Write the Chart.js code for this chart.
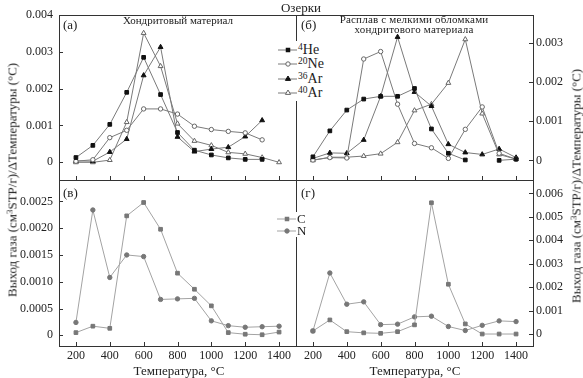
<!DOCTYPE html>
<html><head><meta charset="utf-8">
<script src="https://cdn.jsdelivr.net/npm/chart.js@4.4.1/dist/chart.umd.min.js"></script>
<style>
html,body{margin:0;padding:0;background:#fff;}
#wrap{position:relative;width:583px;height:378px;overflow:hidden;font-family:"Liberation Serif","DejaVu Serif",serif;color:#222;}
canvas{position:absolute;left:0;top:0;}
.t{position:absolute;white-space:nowrap;line-height:1;}
.c{transform:translateX(-50%);}
.rot{transform:translate(-50%,-50%) rotate(-90deg);font-size:13px;}
.s{font-size:0.68em;vertical-align:0.45em;line-height:0;}
.leg{position:absolute;background:#fff;}
.row{position:absolute;left:0;height:14px;}
.row svg{position:absolute;left:0;top:2px;}
.row span.l{position:absolute;left:20px;top:0;font-size:14px;line-height:14px;white-space:nowrap;}
</style></head><body><div id="wrap">
<canvas id="cA" width="583" height="378"></canvas>
<canvas id="cB" width="583" height="378"></canvas>
<canvas id="cV" width="583" height="378"></canvas>
<canvas id="cG" width="583" height="378"></canvas>

<div class="t c" style="left:301px;top:1px;font-size:13px;">Озерки</div>
<div class="t" style="left:63px;top:18px;font-size:13px;">(а)</div>
<div class="t c" style="left:178px;top:15px;font-size:11px;">Хондритовый материал</div>
<div class="t" style="left:301px;top:18px;font-size:13px;">(б)</div>
<div class="t c" style="left:414px;top:14px;font-size:11px;letter-spacing:0.2px;">Расплав с мелкими обломками</div>
<div class="t c" style="left:414px;top:24px;font-size:11px;letter-spacing:0.2px;">хондритового материала</div>
<div class="t" style="left:63px;top:186px;font-size:13px;">(в)</div>
<div class="t" style="left:301px;top:186px;font-size:13px;">(г)</div>
<div class="t c" style="left:179px;top:364px;font-size:13px;">Температура, °C</div>
<div class="t c" style="left:415px;top:364px;font-size:13px;">Температура, °C</div>
<div class="t rot" style="left:12px;top:180px;">Выход газа (см<span class="s">3</span>STP/г)/ΔТемпературы (°C)</div>
<div class="t rot" style="left:576px;top:186px;">Выход газа (см<span class="s">3</span>STP/г)/ΔТемпературы (°C)</div>

<div class="leg" id="legTop" style="left:278px;top:41px;width:60px;height:60px;"></div>
<div class="leg" id="legBot" style="left:277px;top:212px;width:34px;height:25px;"></div>
</div>
<script>
// ---- data ----
const temps = [200, 300, 400, 500, 600, 700, 800, 900, 1000, 1100, 1200, 1300, 1400];
const xTickVals = [200, 400, 600, 800, 1000, 1200, 1400];

// panel (а) Хондритовый материал
const heA   = [0.00013, 0.00046, 0.00103, 0.0019, 0.00285, 0.00184, 0.00081, 0.00033, 0.0002, 0.00012, 0.00008, 0.00008, null];
const neA   = [0.00003, 0.00007, 0.00067, 0.00087, 0.00145, 0.00145, 0.00131, 0.00098, 0.00089, 0.00084, 0.0008, 0.00061, null];
const ar36A = [0.00004, 0.00003, 0.00028, 0.00063, 0.00236, 0.00313, 0.00069, 0.00029, 0.00036, 0.00041, 0.0007, 0.00114, null];
const ar40A = [0.0, 0.0, 0.00006, 0.00109, 0.00351, 0.00261, 0.00105, 0.00058, 0.00046, 0.00027, 0.00023, 0.00013, 0.0];

// panel (б) Расплав с мелкими обломками хондритового материала
const heB   = [0.00009, 0.00075, 0.00128, 0.00156, 0.00163, 0.00163, 0.00183, 0.0008, 0.00018, 0.00001, null, 0.0, 0.00003];
const neB   = [0.00001, 0.00007, 0.00006, 0.00258, 0.00277, 0.00143, 0.00043, 0.00032, 0.00005, 0.00079, 0.00136, 0.00018, 0.00003];
const ar36B = [0.00005, 0.00019, 0.00018, 0.00052, 0.00163, 0.00314, 0.00174, 0.00138, 0.00041, 0.0002, 0.00015, 0.00029, 0.00007];
const ar40B = [0.0, 0.00008, 0.00008, 0.00011, 0.00017, 0.00046, 0.00127, 0.00143, 0.00197, 0.00308, 0.00119, 0.00015, 0.00003];

// panel (в)
const cV = [0.00005, 0.00017, 0.00013, 0.00223, 0.00248, 0.00198, 0.00116, 0.00086, 0.00055, 0.00005, 0.00002, 0.00001, 0.00006];
const nV = [0.00024, 0.00234, 0.00108, 0.0015, 0.00147, 0.00067, 0.00068, 0.00069, 0.00027, 0.00018, 0.00015, 0.00016, 0.00017];

// panel (г)
const cG = [0.00014, 0.00061, 0.00011, 0.00006, 0.00004, 0.00011, 0.0004, 0.0056, 0.00213, 0.00044, 0.00001, 0.00001, 0.00001];
const nG = [0.00014, 0.00261, 0.00128, 0.00138, 0.00041, 0.00043, 0.00074, 0.00077, 0.00033, 0.00016, 0.00038, 0.00057, 0.00054];

// y tick values / labels
const yTicksA = [0, 0.001, 0.002, 0.003, 0.004];
const yLabelsA = ['0', '0.001', '0.002', '0.003', '0.004'];
const yTicksB = [0, 0.001, 0.002, 0.003];
const yLabelsB = ['0', '0.001', '0.002', '0.003'];
const yTicksV = [0, 0.0005, 0.001, 0.0015, 0.002, 0.0025];
const yLabelsV = ['0', '0.0005', '0.0010', '0.0015', '0.0020', '0.0025'];
const yTicksG = [0, 0.001, 0.002, 0.003, 0.004, 0.005, 0.006];
const yLabelsG = ['0', '0.001', '0.002', '0.003', '0.004', '0.005', '0.006'];
const xLabels = ['200', '400', '600', '800', '1000', '1200', '1400'];

const seriesTop = ['4He', '20Ne', '36Ar', '40Ar'];
const seriesBot = ['C', 'N'];

// ---- styles ----
const LINE_TOP = '#7a7a7a';
const LINE_BOT = '#a3a3a3';
const MARK_BOT = '#777777';
const styleTop = [
  {pointStyle:'rect', pointRadius:2.6, pointBackgroundColor:'#111', pointBorderColor:'#111'},
  {pointStyle:'circle', pointRadius:2.2, pointBackgroundColor:'#fff', pointBorderColor:'#666'},
  {pointStyle:'triangle', pointRadius:2.8, pointBackgroundColor:'#111', pointBorderColor:'#111'},
  {pointStyle:'triangle', pointRadius:2.8, pointBackgroundColor:'#fff', pointBorderColor:'#666'}
];
const styleBot = [
  {pointStyle:'rect', pointRadius:2.6, pointBackgroundColor:MARK_BOT, pointBorderColor:MARK_BOT},
  {pointStyle:'circle', pointRadius:2.2, pointBackgroundColor:MARK_BOT, pointBorderColor:MARK_BOT}
];

const FONT = '"Liberation Serif", "DejaVu Serif", serif';

const boxTicks = {
  id: 'boxTicks',
  afterDraw(chart, args, opts) {
    const ctx = chart.ctx, a = chart.chartArea;
    const xs = chart.scales.x, ys = chart.scales.y;
    ctx.save();
    ctx.strokeStyle = '#333';
    ctx.lineWidth = 1;
    ctx.strokeRect(Math.round(a.left) + 0.5, Math.round(a.top) + 0.5, Math.round(a.right - a.left), Math.round(a.bottom - a.top));
    ctx.beginPath();
    xTickVals.forEach(v => {
      const px = Math.round(xs.getPixelForValue(v)) + 0.5;
      ctx.moveTo(px, a.bottom); ctx.lineTo(px, a.bottom - 4);
    });
    (opts.yVals || []).forEach(v => {
      const py = Math.round(ys.getPixelForValue(v)) + 0.5;
      if (opts.right) { ctx.moveTo(a.right, py); ctx.lineTo(a.right - 4, py); }
      else { ctx.moveTo(a.left, py); ctx.lineTo(a.left + 4, py); }
    });
    ctx.stroke();
    ctx.restore();
  }
};

function mkData(vals) { return temps.map((t, i) => ({x: t, y: vals[i]})); }

function makeChart(id, area, right, showX, yMin, yMax, yVals, yLabs, series, styles, lineColor) {
  const yW = right ? 45 : 50;
  const xH = showX ? 24 : 0;
  const padding = {
    left: right ? area.l : area.l - yW,
    right: right ? 583 - area.r - yW : 583 - area.r,
    top: area.t,
    bottom: 378 - area.b - xH
  };
  return new Chart(document.getElementById(id), {
    type: 'line',
    data: {
      datasets: series.map((s, i) => Object.assign({
        label: s.name,
        data: mkData(s.vals),
        borderColor: lineColor,
        borderWidth: 1,
        pointBorderWidth: 1,
        tension: 0,
        spanGaps: false,
        fill: false
      }, styles[i]))
    },
    options: {
      responsive: false,
      animation: false,
      events: [],
      layout: {padding},
      plugins: {legend: {display: false}, tooltip: {enabled: false}, boxTicks: {yVals, right}},
      scales: {
        x: {
          type: 'linear', min: 100, max: 1500,
          afterBuildTicks: s => { s.ticks = xTickVals.map(v => ({value: v})); },
          afterFit: s => { s.height = xH; },
          grid: {display: false, drawTicks: false},
          border: {display: false},
          ticks: {display: showX, padding: 3, maxRotation: 0, autoSkip: false,
                  font: {family: FONT, size: 12}, color: '#222',
                  callback: v => xLabels[xTickVals.indexOf(v)]}
        },
        y: {
          type: 'linear', position: right ? 'right' : 'left', min: yMin, max: yMax,
          afterBuildTicks: s => { s.ticks = yVals.map(v => ({value: v})); },
          afterFit: s => { s.width = yW; },
          grid: {display: false, drawTicks: false},
          border: {display: false},
          ticks: {padding: right ? 3 : 6, autoSkip: false,
                  font: {family: FONT, size: 12}, color: '#222',
                  callback: v => yLabs[yVals.indexOf(v)]}
        }
      }
    },
    plugins: [boxTicks]
  });
}

makeChart('cA', {l:59, r:296, t:15, b:180}, false, false, -0.00048, 0.004, yTicksA, yLabelsA,
  [{name:seriesTop[0], vals:heA}, {name:seriesTop[1], vals:neA}, {name:seriesTop[2], vals:ar36A}, {name:seriesTop[3], vals:ar40A}],
  styleTop, LINE_TOP);
makeChart('cB', {l:296, r:533, t:15, b:180}, true, false, -0.0005, 0.0037, yTicksB, yLabelsB,
  [{name:seriesTop[0], vals:heB}, {name:seriesTop[1], vals:neB}, {name:seriesTop[2], vals:ar36B}, {name:seriesTop[3], vals:ar40B}],
  styleTop, LINE_TOP);
makeChart('cV', {l:59, r:296, t:180, b:346}, false, true, -0.0002, 0.0029, yTicksV, yLabelsV,
  [{name:seriesBot[0], vals:cV}, {name:seriesBot[1], vals:nV}],
  styleBot, LINE_BOT);
makeChart('cG', {l:296, r:533, t:180, b:346}, true, true, -0.0005, 0.00657, yTicksG, yLabelsG,
  [{name:seriesBot[0], vals:cG}, {name:seriesBot[1], vals:nG}],
  styleBot, LINE_BOT);

// ---- legends (HTML, same styles as the datasets) ----
function markerSVG(st, line) {
  const c = st.pointBackgroundColor, b = st.pointBorderColor;
  let m = '';
  if (st.pointStyle === 'rect') m = `<rect x="8" y="3" width="4" height="4" fill="${c}" stroke="${b}" stroke-width="0.5"/>`;
  else if (st.pointStyle === 'circle') m = `<circle cx="10" cy="5" r="2.2" fill="${c}" stroke="${b}" stroke-width="1"/>`;
  else m = `<polygon points="10,2 12.6,6.4 7.4,6.4" fill="${c}" stroke="${b}" stroke-width="1"/>`;
  return `<svg width="19" height="10"><line x1="0" y1="5" x2="19" y2="5" stroke="${line}" stroke-width="1"/>${m}</svg>`;
}
function labelHTML(name) {
  const m = name.match(/^(\d+)(.*)$/);
  return m ? `<span class="s">${m[1]}</span>${m[2]}` : name;
}
const legTop = document.getElementById('legTop');
seriesTop.forEach((n, i) => {
  const d = document.createElement('div');
  d.className = 'row';
  d.style.top = (1.5 + i * 14.5) + 'px';
  d.innerHTML = markerSVG(styleTop[i], LINE_TOP) + `<span class="l">${labelHTML(n)}</span>`;
  legTop.appendChild(d);
});
const legBot = document.getElementById('legBot');
seriesBot.forEach((n, i) => {
  const d = document.createElement('div');
  d.className = 'row';
  d.style.top = (0 + i * 11.5) + 'px';
  d.innerHTML = markerSVG(styleBot[i], LINE_BOT) + `<span class="l" style="font-size:13px">${labelHTML(n)}</span>`;
  legBot.appendChild(d);
});
</script>
</body></html>
